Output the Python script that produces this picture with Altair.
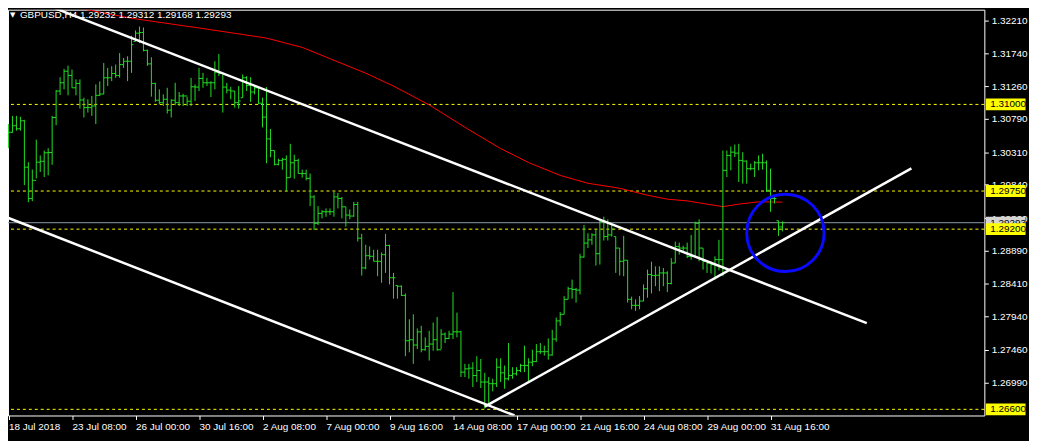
import json
import altair as alt
import pandas as pd

# ---------------- data ----------------
symbol = "GBPUSD,H4"

opens = [
    1.30477, 1.30597, 1.30692, 1.30649, 1.30764, 1.30094, 1.29642, 1.29904, 1.30166, 1.30180,
    1.30302, 1.30306, 1.30811, 1.31193, 1.31312, 1.31479, 1.31418, 1.31240, 1.31303, 1.31064,
    1.30954, 1.30954, 1.30978, 1.31131, 1.31150, 1.31384, 1.31384, 1.31446, 1.31418, 1.31575,
    1.31623, 1.31623, 1.31909, 1.32028, 1.32038, 1.31780, 1.31585, 1.31303, 1.31060, 1.31026,
    1.31074, 1.30917, 1.31060, 1.31026, 1.31122, 1.31122, 1.31046, 1.31254, 1.31250, 1.31375,
    1.31312, 1.31312, 1.31312, 1.31465, 1.31446, 1.31250, 1.31207, 1.31193, 1.31026, 1.31097,
    1.31384, 1.31274, 1.31179, 1.31240, 1.31017, 1.30817, 1.30502, 1.30335, 1.30135, 1.30192,
    1.30207, 1.29943, 1.30158, 1.30192, 1.30002, 1.30002, 1.29933, 1.29665, 1.29284, 1.29428,
    1.29451, 1.29451, 1.29451, 1.29665, 1.29642, 1.29522, 1.29403, 1.29389, 1.29556, 1.29070,
    1.28641, 1.28817, 1.28808, 1.28736, 1.28736, 1.28832, 1.28965, 1.28499, 1.28387, 1.28377,
    1.28244, 1.27590, 1.27604, 1.27528, 1.27718, 1.27460, 1.27509, 1.27542, 1.27604, 1.27460,
    1.27685, 1.27623, 1.27685, 1.27718, 1.27718, 1.27137, 1.27184, 1.27194, 1.27088, 1.27160,
    1.26994, 1.26994, 1.26970, 1.26970, 1.27208, 1.27127, 1.27041, 1.27088, 1.27113, 1.27160,
    1.27232, 1.27232, 1.27280, 1.27289, 1.27432, 1.27432, 1.27432, 1.27384, 1.27614, 1.27876,
    1.27971, 1.28187, 1.28340, 1.28330, 1.28321, 1.28798, 1.28999, 1.29045, 1.29117, 1.28846,
    1.29308, 1.29093, 1.29117, 1.29093, 1.28927, 1.28736, 1.28751, 1.28187, 1.28101, 1.28101,
    1.28163, 1.28340, 1.28545, 1.28530, 1.28535, 1.28568, 1.28568, 1.28416, 1.28711, 1.28949,
    1.28927, 1.28927, 1.28806, 1.28806, 1.29284, 1.28927, 1.28736, 1.28711, 1.28688, 1.28760,
    1.28760, 1.30049, 1.30264, 1.30311, 1.30297, 1.30192, 1.30182, 1.30073, 1.30073, 1.30158,
    1.30158, 1.30158, 1.29761, 1.29642, 1.29322, 1.29232,
]

highs = [
    1.30717, 1.30835, 1.30835, 1.30821, 1.30778, 1.30166, 1.30061, 1.30492, 1.30264, 1.30335,
    1.30368, 1.30835, 1.31207, 1.31393, 1.31512, 1.31560, 1.31503, 1.31361, 1.31361, 1.31097,
    1.31074, 1.31122, 1.31289, 1.31332, 1.31598, 1.31527, 1.31551, 1.31575, 1.31741, 1.31670,
    1.31694, 1.31991, 1.32067, 1.32124, 1.32110, 1.31790, 1.31680, 1.31312, 1.31217, 1.31146,
    1.31240, 1.31074, 1.31312, 1.31179, 1.31154, 1.31111, 1.31384, 1.31289, 1.31527, 1.31455,
    1.31384, 1.31336, 1.31623, 1.31727, 1.31432, 1.31312, 1.31254, 1.31193, 1.31265, 1.31432,
    1.31408, 1.31393, 1.31265, 1.31240, 1.31097, 1.31250, 1.30645, 1.30335, 1.30216, 1.30230,
    1.30264, 1.30431, 1.30274, 1.30216, 1.30059, 1.30059, 1.30002, 1.29690, 1.29532, 1.29475,
    1.29499, 1.29499, 1.29737, 1.29723, 1.29665, 1.29522, 1.29485, 1.29594, 1.29594, 1.29132,
    1.28975, 1.28951, 1.28903, 1.28903, 1.28865, 1.29132, 1.28975, 1.28569, 1.28387, 1.28387,
    1.28272, 1.27900, 1.27971, 1.27767, 1.27805, 1.27638, 1.27733, 1.27853, 1.27933, 1.27757,
    1.27709, 1.27733, 1.28291, 1.27996, 1.27733, 1.27256, 1.27256, 1.27280, 1.27366, 1.27327,
    1.27127, 1.27066, 1.27041, 1.27337, 1.27337, 1.27232, 1.27557, 1.27208, 1.27208, 1.27256,
    1.27518, 1.27337, 1.27460, 1.27542, 1.27556, 1.27518, 1.27623, 1.27747, 1.27924, 1.28004,
    1.28234, 1.28368, 1.28472, 1.28353, 1.28845, 1.29260, 1.29141, 1.29141, 1.29189, 1.29332,
    1.29379, 1.29342, 1.29275, 1.29093, 1.28927, 1.29103, 1.28751, 1.28226, 1.28187, 1.28234,
    1.28403, 1.28616, 1.28730, 1.28663, 1.28663, 1.28640, 1.28592, 1.28782, 1.29021, 1.29006,
    1.28961, 1.29006, 1.29117, 1.29308, 1.29342, 1.28927, 1.28751, 1.28736, 1.28808, 1.29045,
    1.30335, 1.30335, 1.30392, 1.30421, 1.30431, 1.30311, 1.30192, 1.30145, 1.30182, 1.30264,
    1.30288, 1.30192, 1.30073, 1.29665, 1.29322, 1.29312,
]

lows = [
    1.30368, 1.30592, 1.30621, 1.30621, 1.29835, 1.29589, 1.29604, 1.29933, 1.30025, 1.29952,
    1.29976, 1.30129, 1.30700, 1.31136, 1.31217, 1.31131, 1.31240, 1.31131, 1.30940, 1.30811,
    1.30883, 1.30835, 1.30717, 1.31120, 1.31146, 1.31265, 1.31336, 1.31384, 1.31384, 1.31527,
    1.31336, 1.31455, 1.31909, 1.31885, 1.31766, 1.31556, 1.31112, 1.31036, 1.31003, 1.30978,
    1.30869, 1.30811, 1.30988, 1.30978, 1.30978, 1.30978, 1.30978, 1.31050, 1.31193, 1.31240,
    1.31265, 1.31107, 1.31217, 1.31408, 1.30883, 1.31160, 1.31074, 1.30954, 1.30940, 1.31097,
    1.31193, 1.31036, 1.31146, 1.31003, 1.30668, 1.30152, 1.30238, 1.30120, 1.30120, 1.30059,
    1.29751, 1.29943, 1.29928, 1.30002, 1.29943, 1.29904, 1.29532, 1.29189, 1.29260, 1.29356,
    1.29379, 1.29403, 1.29379, 1.29499, 1.29356, 1.29236, 1.29342, 1.29379, 1.29021, 1.28531,
    1.28620, 1.28760, 1.28736, 1.28521, 1.28426, 1.28569, 1.28403, 1.28197, 1.28197, 1.28234,
    1.27366, 1.27423, 1.27256, 1.27470, 1.27423, 1.27446, 1.27304, 1.27446, 1.27446, 1.27470,
    1.27556, 1.27614, 1.27614, 1.27638, 1.27066, 1.27066, 1.27041, 1.26922, 1.26994, 1.26908,
    1.26611, 1.26659, 1.26860, 1.26922, 1.26994, 1.26898, 1.27017, 1.27041, 1.27088, 1.27137,
    1.27137, 1.26994, 1.27223, 1.27280, 1.27399, 1.27375, 1.27317, 1.27375, 1.27575, 1.27804,
    1.27971, 1.28187, 1.28197, 1.28140, 1.28259, 1.28790, 1.28927, 1.28975, 1.28674, 1.28689,
    1.29036, 1.29036, 1.29093, 1.28569, 1.28531, 1.28521, 1.28140, 1.28044, 1.28020, 1.28044,
    1.28160, 1.28211, 1.28272, 1.28377, 1.28306, 1.28377, 1.28291, 1.28403, 1.28711, 1.28832,
    1.28856, 1.28782, 1.28760, 1.28790, 1.28736, 1.28616, 1.28569, 1.28559, 1.28472, 1.28606,
    1.28521, 1.29952, 1.30049, 1.30239, 1.29880, 1.29857, 1.29857, 1.30049, 1.29952, 1.30049,
    1.30059, 1.29737, 1.29451, 1.29570, 1.29103, 1.29168,
]

closes = [
    1.30597, 1.30692, 1.30649, 1.30764, 1.30094, 1.29642, 1.29904, 1.30166, 1.30180, 1.30302,
    1.30306, 1.30811, 1.31193, 1.31312, 1.31479, 1.31418, 1.31240, 1.31303, 1.31064, 1.30954,
    1.30954, 1.30978, 1.31131, 1.31150, 1.31384, 1.31384, 1.31446, 1.31418, 1.31575, 1.31623,
    1.31623, 1.31862, 1.32028, 1.32038, 1.31780, 1.31585, 1.31303, 1.31060, 1.31026, 1.31074,
    1.30917, 1.31060, 1.31026, 1.31122, 1.31122, 1.31046, 1.31254, 1.31250, 1.31375, 1.31312,
    1.31312, 1.31312, 1.31465, 1.31446, 1.31250, 1.31207, 1.31193, 1.31026, 1.31050, 1.31384,
    1.31274, 1.31179, 1.31240, 1.31017, 1.30817, 1.30502, 1.30335, 1.30135, 1.30192, 1.30207,
    1.29943, 1.30158, 1.30192, 1.30002, 1.30002, 1.29933, 1.29665, 1.29284, 1.29428, 1.29451,
    1.29451, 1.29451, 1.29665, 1.29642, 1.29522, 1.29403, 1.29389, 1.29556, 1.29070, 1.28641,
    1.28817, 1.28808, 1.28736, 1.28736, 1.28832, 1.28965, 1.28499, 1.28499, 1.28377, 1.28244,
    1.27590, 1.27604, 1.27528, 1.27718, 1.27460, 1.27509, 1.27542, 1.27604, 1.27460, 1.27685,
    1.27623, 1.27685, 1.27718, 1.27718, 1.27137, 1.27184, 1.27194, 1.27088, 1.27160, 1.26994,
    1.26994, 1.26970, 1.26970, 1.27208, 1.27127, 1.27041, 1.27088, 1.27113, 1.27160, 1.27232,
    1.27232, 1.27280, 1.27289, 1.27432, 1.27432, 1.27432, 1.27384, 1.27614, 1.27876, 1.27971,
    1.28187, 1.28340, 1.28330, 1.28321, 1.28798, 1.28999, 1.29045, 1.29117, 1.28846, 1.29308,
    1.29093, 1.29117, 1.29199, 1.28927, 1.28736, 1.28751, 1.28187, 1.28101, 1.28101, 1.28163,
    1.28340, 1.28545, 1.28530, 1.28535, 1.28568, 1.28568, 1.28416, 1.28711, 1.28949, 1.28927,
    1.28927, 1.28806, 1.28806, 1.29284, 1.28927, 1.28736, 1.28711, 1.28688, 1.28760, 1.28760,
    1.30049, 1.30264, 1.30311, 1.30297, 1.30192, 1.30182, 1.30073, 1.30073, 1.30158, 1.30158,
    1.30158, 1.29761, 1.29642, 1.29642, 1.29232, 1.29293,
]

# time axis: bar number of each labelled bar and its label
tick_bars = [0, 16, 32, 48, 64, 80, 96, 112, 128, 144, 160, 176, 192]
tick_labels = ["18 Jul 2018", "23 Jul 08:00", "26 Jul 00:00", "30 Jul 16:00",
               "2 Aug 08:00", "7 Aug 00:00", "9 Aug 16:00", "14 Aug 08:00",
               "17 Aug 00:00", "21 Aug 16:00", "24 Aug 08:00", "29 Aug 00:00",
               "31 Aug 16:00"]

price_ticks = [1.32210, 1.31740, 1.31260, 1.30790, 1.30310, 1.29840, 1.29360,
               1.28890, 1.28410, 1.27940, 1.27460, 1.26990, 1.26510]

level_prices = [1.31000, 1.29750, 1.29200, 1.26600]
current_price = 1.29293

# moving average (red)
ma_bars = [12, 31, 49, 65, 74, 82, 90, 97, 106, 116, 124, 131, 139, 146,
           154, 161, 166, 171, 176, 180, 184, 189, 195]
ma_values = [1.32453, 1.32243, 1.32095, 1.31957, 1.31823, 1.31637, 1.31451,
             1.31265, 1.30993, 1.30635, 1.30363, 1.30162, 1.29976, 1.29862,
             1.29790, 1.29690, 1.29633, 1.29608, 1.29561, 1.29525, 1.29561,
             1.29594, 1.29590]

# trend lines (white): id, start bar, start price, end bar, end price
trend_ids = ["upper", "lower", "rising"]
trend_bar0 = [10, 0, 120]
trend_price0 = [1.32425, 1.29361, 1.26640]
trend_bar1 = [216.25, 127.5, 227.5]
trend_price1 = [1.27843, 1.26511, 1.30077]

# blue circle marker
circle_bar = [195.75]
circle_price = [1.29146]

# ---------------- tables ----------------
n = len(closes)
bars = pd.DataFrame({"bar": list(range(n)), "o": opens, "h": highs,
                     "l": lows, "c": closes})
levels = pd.DataFrame({"p": level_prices})
current = pd.DataFrame({"p": [current_price]})
ma = pd.DataFrame({"bar": ma_bars, "p": ma_values})
trend_rows = []
for k, tid in enumerate(trend_ids):
    trend_rows.append({"line": tid, "bar": trend_bar0[k], "p": trend_price0[k]})
    trend_rows.append({"line": tid, "bar": trend_bar1[k], "p": trend_price1[k]})
trends = pd.DataFrame(trend_rows)
circle = pd.DataFrame({"bar": circle_bar, "p": circle_price})
title_text = (f"{symbol}  {opens[-1]:.5f} {highs[-1]:.5f} "
              f"{lows[-1]:.5f} {closes[-1]:.5f}")
title_df = pd.DataFrame({"t": [title_text]})
arrow_df = pd.DataFrame({"t": ["\u25BC"]})

# ---------------- styling ----------------
FONT = "Liberation Sans"
FS = 10
GREEN = "#22e022"
W, H = 984, 409

X_SCALE = alt.Scale(domain=[-0.125, 245.875], nice=False, zero=False)
Y_SCALE = alt.Scale(domain=[1.26511, 1.32367], nice=False, zero=False)

label_expr = json.dumps(tick_labels) + "[round(datum.value / 16)]"
X_AXIS = alt.Axis(values=tick_bars, labelExpr=label_expr, title=None,
                  orient="bottom", tickSize=4, labelPadding=2,
                  labelAlign="left", labelFlush=False, labelOverlap=False,
                  domain=False, grid=False)
Y_AXIS = alt.Axis(values=price_ticks, format=".5f", title=None,
                  orient="right", tickSize=4, labelPadding=3,
                  labelAlign="left", labelFlush=False, labelOverlap=False,
                  domain=False, grid=False)


def X(field):
    return alt.X(field, type="quantitative", scale=X_SCALE, axis=X_AXIS)


def Y(field):
    return alt.Y(field, type="quantitative", scale=Y_SCALE, axis=Y_AXIS)


dashed = alt.Chart(levels).mark_rule(
    color="#ffff00", strokeWidth=1, strokeDash=[3, 3]
).encode(y=Y("p"))

cur_line = alt.Chart(current).mark_rule(
    color="#8a98a8", strokeWidth=1
).encode(y=Y("p"))

ma_line = alt.Chart(ma).mark_line(
    color="#ff0000", strokeWidth=1, clip=True
).encode(x=X("bar"), y=Y("p"))

wicks = alt.Chart(bars).mark_rule(
    color=GREEN, strokeWidth=1, clip=True
).encode(x=X("bar"), y=Y("l"), y2="h:Q")

open_ticks = alt.Chart(bars).transform_calculate(
    xl="datum.bar - 0.5"
).mark_rule(color=GREEN, strokeWidth=1, clip=True).encode(
    x=X("xl"), x2="bar:Q", y=Y("o"))

close_ticks = alt.Chart(bars).transform_calculate(
    xr="datum.bar + 0.5"
).mark_rule(color=GREEN, strokeWidth=1, clip=True).encode(
    x=X("bar"), x2="xr:Q", y=Y("c"))

trend = alt.Chart(trends).mark_line(
    color="#ffffff", strokeWidth=2.5, clip=True
).encode(x=X("bar"), y=Y("p"), detail="line:N")

ring = alt.Chart(circle).mark_point(
    shape="circle", size=6084, filled=False, color="#0a0aff",
    strokeWidth=3, opacity=1
).encode(x=X("bar"), y=Y("p"))

cur_box = alt.Chart(current).mark_tick(
    color="#d4d4d4", size=40, thickness=12, opacity=1, orient="horizontal"
).encode(y=Y("p"), x=alt.value(1005.5))

cur_txt = alt.Chart(current).mark_text(
    align="left", baseline="middle", color="#000000", font=FONT, fontSize=FS
).encode(y=Y("p"), x=alt.value(990), text=alt.Text("p:Q", format=".5f"))

lvl_box = alt.Chart(levels).mark_tick(
    color="#ffff00", size=40, thickness=12, opacity=1, orient="horizontal"
).encode(y=Y("p"), x=alt.value(1005.5))

lvl_txt = alt.Chart(levels).mark_text(
    align="left", baseline="middle", color="#000000", font=FONT, fontSize=FS
).encode(y=Y("p"), x=alt.value(990), text=alt.Text("p:Q", format=".5f"))

title = alt.Chart(title_df).mark_text(
    align="left", baseline="middle", color="#ffffff", font=FONT, fontSize=FS
).encode(x=alt.value(12), y=alt.value(5), text="t:N")

arrow = alt.Chart(arrow_df).mark_text(
    align="left", baseline="middle", color="#ffffff", font="DejaVu Sans",
    fontSize=7
).encode(x=alt.value(2), y=alt.value(5), text="t:N")

chart = alt.layer(
    dashed, cur_line, ma_line, wicks, open_ticks, close_ticks, trend, ring,
    cur_box, cur_txt, lvl_box, lvl_txt, title, arrow
).properties(
    width=W, height=H,
    padding={"left": 0, "top": 0, "right": 45, "bottom": 24},
    autosize=alt.AutoSizeParams(type="none"),
    background="#000000",
).configure_view(
    stroke="#ffffff", strokeWidth=1
).configure_axis(
    labelColor="#ffffff", tickColor="#ffffff", labelFont=FONT,
    labelFontSize=FS, domain=False, grid=False
)

chart.save("out.html", embed_options={"renderer": "svg", "actions": False})
